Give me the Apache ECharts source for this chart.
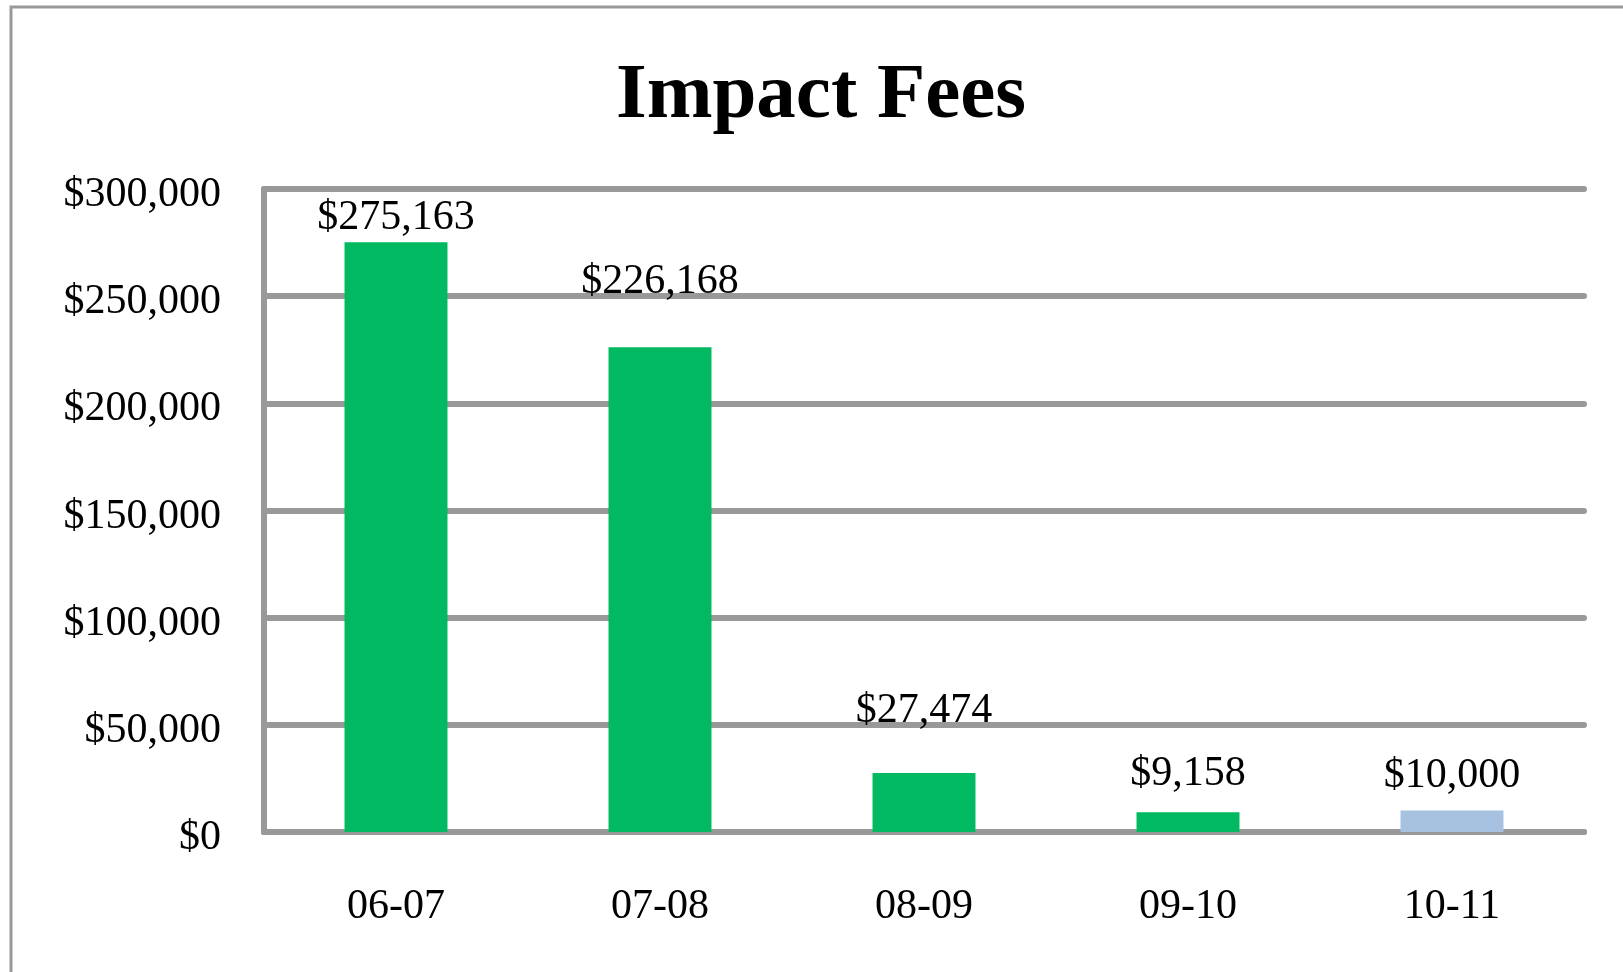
<!DOCTYPE html>
<html>
<head>
<meta charset="utf-8">
<script src="https://cdn.jsdelivr.net/npm/echarts@6/dist/echarts.min.js"></script>
<style>
  html, body { margin: 0; padding: 0; background: #fff; }
  #main { width: 1623px; height: 972px; }
</style>
</head>
<body>
<div id="main"></div>
<script>
// data
const categories = ['06-07', '07-08', '08-09', '09-10', '10-11']
const fees = [275163, 226168, 27474, 9158, 10000]
const yTicks = [0, 50000, 100000, 150000, 200000, 250000, 300000]

// styling per bar (last year is a projection, drawn light blue)
const barColors = ['#00B960', '#00B960', '#00B960', '#00B960', '#A7C2E0']
const labelGaps = [3, 44, 41, 17, 14]

const money = (v) => '$' + v.toLocaleString('en-US')
const font = '"Liberation Serif", "DejaVu Serif", serif'

const chart = echarts.init(document.getElementById('main'))
const option = {
  animation: false,
  title: {
    text: 'Impact Fees',
    left: 816,
    top: 52,
    textAlign: 'center',
    textStyle: {
      fontFamily: font,
      fontSize: 79,
      fontWeight: 'bold',
      color: '#000'
    }
  },
  graphic: [
    {
      type: 'rect',
      shape: { x: 11, y: 7, width: 2000, height: 2000 },
      style: { fill: 'none', stroke: '#999', lineWidth: 3 }
    }
  ],
  grid: {
    left: 264,
    right: 39,
    top: 189,
    bottom: 140
  },
  xAxis: {
    type: 'category',
    data: categories,
    axisTick: { show: false },
    axisLine: { show: true, lineStyle: { color: '#999', width: 6, cap: 'round' } },
    axisLabel: {
      margin: 54,
      fontFamily: font,
      fontSize: 42,
      color: '#000'
    }
  },
  yAxis: {
    type: 'value',
    min: yTicks[0],
    max: yTicks[yTicks.length - 1],
    interval: 50000,
    axisLine: { show: true, lineStyle: { color: '#999', width: 6, cap: 'round' } },
    axisTick: { show: false },
    splitLine: { lineStyle: { color: '#999', width: 6, cap: 'round' } },
    axisLabel: {
      margin: 43,
      fontFamily: font,
      fontSize: 42,
      color: '#000',
      formatter: (v) => '{v|' + money(v) + '}',
      rich: {
        v: {
          fontFamily: font,
          fontSize: 42,
          color: '#000',
          padding: [12, 0, 0, 0]
        }
      }
    }
  },
  series: [
    {
      type: 'bar',
      barWidth: '39%',
      data: fees.map((v, i) => ({
        value: v,
        itemStyle: { color: barColors[i] },
        label: { distance: labelGaps[i] }
      })),
      label: {
        show: true,
        position: 'top',
        fontFamily: font,
        fontSize: 42,
        color: '#000',
        formatter: (p) => money(p.value)
      }
    }
  ]
}

option && chart.setOption(option)
</script>
</body>
</html>
